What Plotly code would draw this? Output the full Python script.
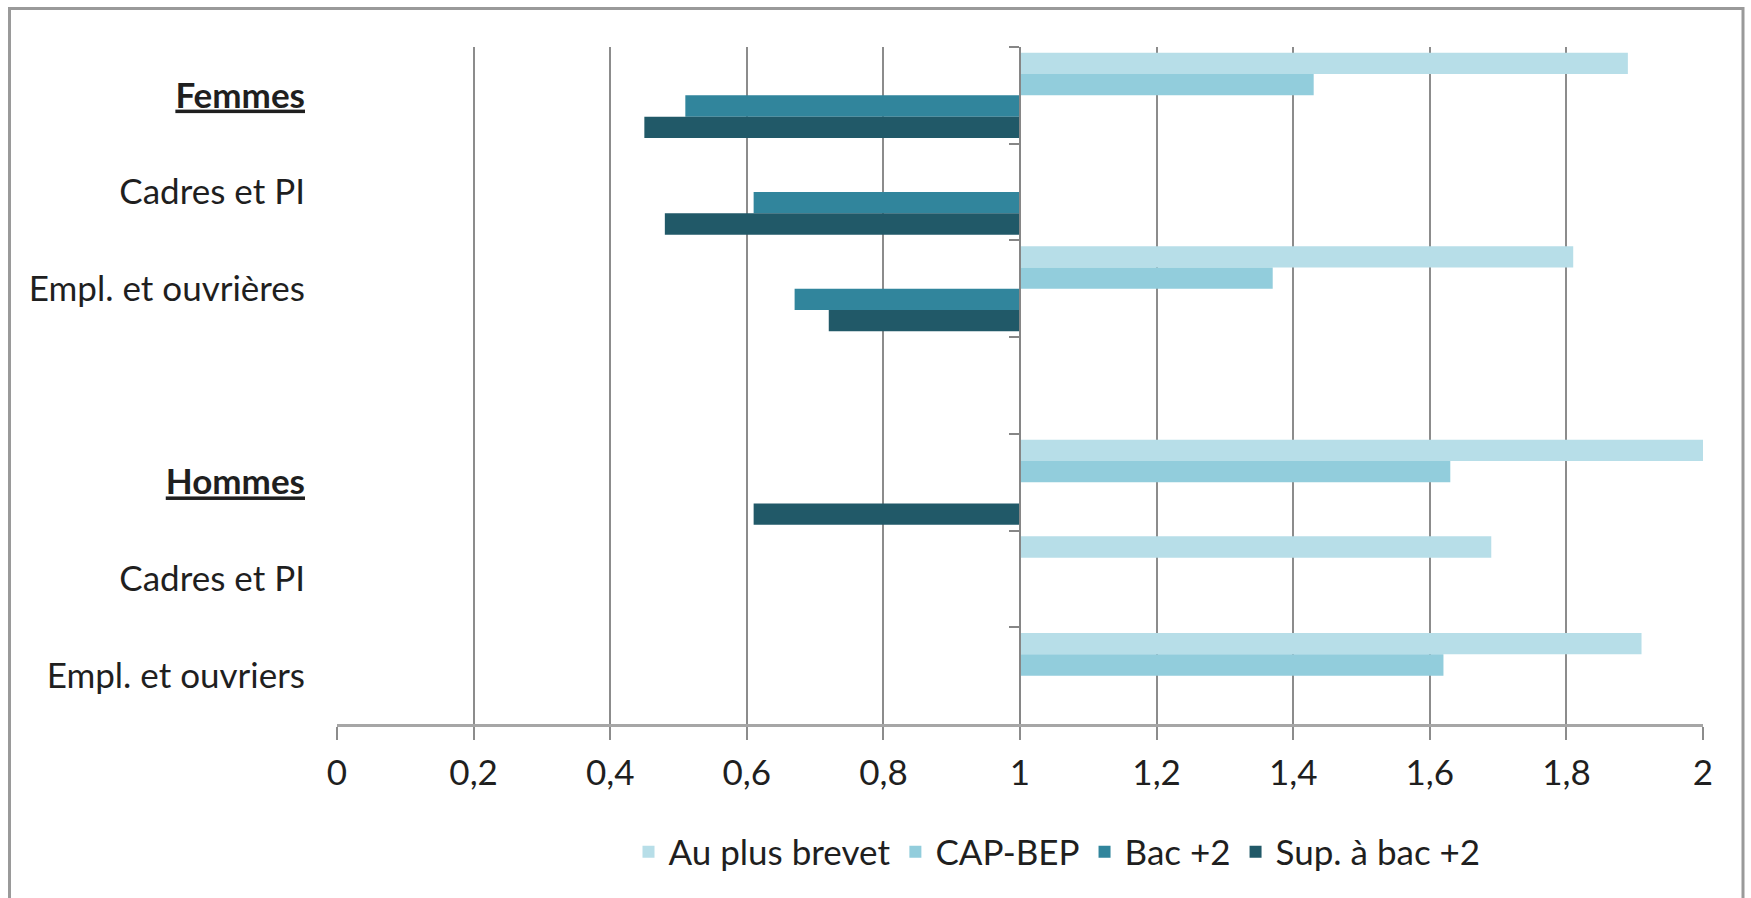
import plotly.graph_objects as go

# Category slots, top to bottom (keys are unique; labels are what is shown)
categories = ["femmes", "femmes_cadres", "femmes_empl", "sep", "hommes", "hommes_cadres", "hommes_empl"]
category_labels = [
    "<b><u>Femmes</u></b>",
    "Cadres et PI",
    "Empl. et ouvrières",
    "",
    "<b><u>Hommes</u></b>",
    "Cadres et PI",
    "Empl. et ouvriers",
]

# Ratios by diploma level (reference value = 1)
series_names = ["Au plus brevet", "CAP-BEP", "Bac +2", "Sup. à bac +2"]
au_plus_brevet = [1.89, None, 1.81, None, 2.00, 1.69, 1.91]
cap_bep = [1.43, None, 1.37, None, 1.63, None, 1.62]
bac_2 = [0.51, 0.61, 0.67, None, None, None, None]
sup_bac_2 = [0.45, 0.48, 0.72, None, 0.61, None, None]

x_ticks = [0, 0.2, 0.4, 0.6, 0.8, 1, 1.2, 1.4, 1.6, 1.8, 2]

BASE = 1.0
X_MIN, X_MAX = 0.0, 2.0

colors = ["#B7DEE8", "#92CDDC", "#31859C", "#215968"]
FONT = "Lato"
FONT_SIZE = 35
TEXT_COLOR = "#1F1F1F"
GRID_COLOR = "#8C8C8C"

fig = go.Figure()

for name, values, color in zip(series_names, [au_plus_brevet, cap_bep, bac_2, sup_bac_2], colors):
    fig.add_trace(go.Bar(
        name=name,
        orientation="h",
        y=categories,
        x=[None if v is None else v - BASE for v in values],
        base=BASE,
        marker=dict(color=color, line=dict(width=0)),
        customdata=values,
        hovertemplate="%{customdata}<extra>" + name + "</extra>",
    ))

# Invisible helper trace so the axis drawn at the reference value gets its categories
fig.add_trace(go.Scatter(
    x=[BASE] * len(categories),
    y=categories,
    yaxis="y2",
    mode="markers",
    marker=dict(opacity=0),
    hoverinfo="skip",
    showlegend=False,
))

n = len(categories)
W, H = 1751, 898
M_L, M_R, M_T, M_B = 337, 48, 47, 174
plot_w = W - M_L - M_R
plot_h = H - M_T - M_B


def px_x(px):
    return (px - M_L) / plot_w


def px_y(py):
    return (H - M_B - py) / plot_h


fig.update_layout(
    width=W,
    height=H,
    margin=dict(l=M_L, r=M_R, t=M_T, b=M_B, pad=0),
    paper_bgcolor="white",
    plot_bgcolor="white",
    separators=", ",
    barmode="group",
    bargap=0.12,
    bargroupgap=0,
    font=dict(family=FONT, size=FONT_SIZE, color=TEXT_COLOR),
    showlegend=True,
    legend=dict(
        orientation="h",
        x=px_x(1057),
        xanchor="center",
        y=px_y(852),
        yanchor="middle",
        font=dict(family=FONT, size=FONT_SIZE, color=TEXT_COLOR),
        traceorder="normal",
        bgcolor="rgba(0,0,0,0)",
    ),
    xaxis=dict(
        range=[X_MIN, X_MAX],
        tickvals=x_ticks,
        showgrid=True,
        gridcolor=GRID_COLOR,
        gridwidth=1.5,
        zeroline=False,
        showline=True,
        linecolor="#A6A6A6",
        linewidth=3,
        ticks="outside",
        ticklen=13,
        tickwidth=1.5,
        tickcolor=GRID_COLOR,
        tickfont=dict(family=FONT, size=FONT_SIZE, color=TEXT_COLOR),
        ticklabelstandoff=3,
        fixedrange=True,
    ),
    yaxis=dict(
        type="category",
        categoryorder="array",
        categoryarray=categories,
        range=[n - 0.5, -0.5],
        tickvals=categories,
        ticktext=category_labels,
        showgrid=False,
        zeroline=False,
        showline=False,
        ticks="",
        ticklabelstandoff=31,
        tickfont=dict(family=FONT, size=FONT_SIZE, color=TEXT_COLOR),
        fixedrange=True,
    ),
    yaxis2=dict(
        type="category",
        categoryorder="array",
        categoryarray=categories,
        range=[n - 0.5, -0.5],
        overlaying="y",
        anchor="free",
        position=(BASE - X_MIN) / (X_MAX - X_MIN),
        side="left",
        showgrid=False,
        zeroline=False,
        showline=True,
        linecolor="#868686",
        linewidth=2,
        ticks="outside",
        tickson="boundaries",
        ticklen=10,
        tickwidth=2,
        tickcolor="#868686",
        showticklabels=False,
        fixedrange=True,
    ),
)

# Chart frame
fig.add_shape(
    type="rect",
    xref="paper", yref="paper",
    x0=px_x(9.5), x1=px_x(1743),
    y0=px_y(910), y1=px_y(8.5),
    line=dict(color="#9A9A9A", width=3),
    fillcolor="rgba(0,0,0,0)",
    layer="below",
)

fig.write_html("out.html")
